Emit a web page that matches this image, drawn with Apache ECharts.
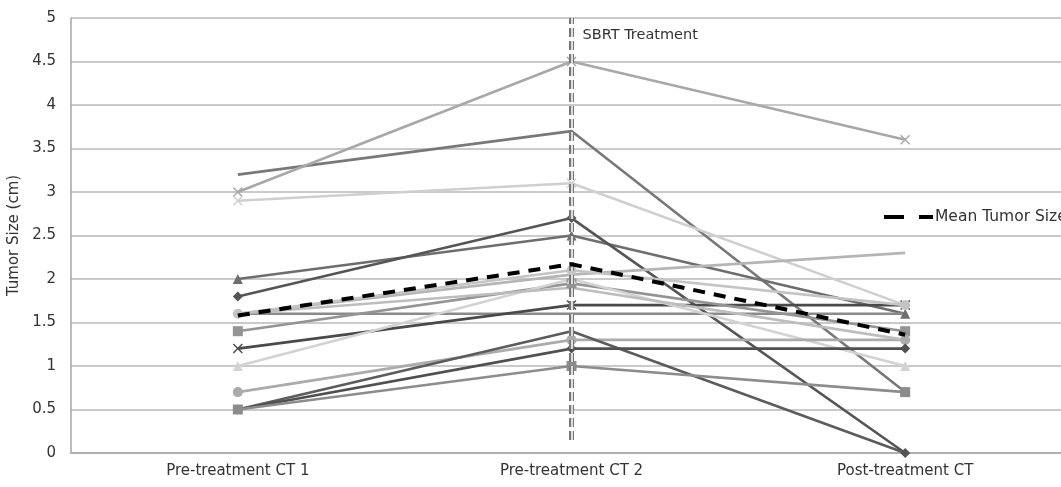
<!DOCTYPE html>
<html>
<head>
<meta charset="utf-8">
<script src="https://cdn.jsdelivr.net/npm/echarts@6/dist/echarts.min.js"></script>
<style>html,body{margin:0;padding:0;background:#fff;overflow:hidden;width:1061px;height:487px}#c{width:1072px;height:487px}</style>
</head>
<body>
<div id="c"></div>
<script>
// ---- data ----
const categories = ['Pre-treatment CT 1', 'Pre-treatment CT 2', 'Post-treatment CT'];
const yTicks = [0, 0.5, 1, 1.5, 2, 2.5, 3, 3.5, 4, 4.5, 5];
const patientA = [3.2, 3.7, 0.7];
const patientB = [3.0, 4.5, 3.6];
const patientC = [2.9, 3.1, 1.7];
const patientD = [2.0, 2.5, 1.6];
const patientE = [1.8, 2.7, 0.0];
const patientF = [1.6, 2.05, 2.3];
const patientG = [1.6, 1.6, 1.6];
const patientH = [1.2, 1.7, 1.7];
const patientI = [1.4, 1.95, 1.4];
const patientJ = [1.0, 2.0, 1.0];
const patientK = [0.7, 1.3, 1.3];
const patientL = [0.5, 1.4, 0.0];
const patientM = [0.5, 1.2, 1.2];
const patientN = [0.5, 1.0, 0.7];
const patientO = [1.6, 2.1, 1.7];
const patientP = [1.6, 1.9, 1.3];
const meanTumorSize = [1.58, 2.17, 1.36];
const treatmentLabel = 'SBRT Treatment';
const treatmentCategory = categories[1];
const treatmentSpan = [0.15, 5];
const treatmentLabelY = 4.8;

// ---- styles ----
const FONT = 'DejaVu Sans, Liberation Sans, Arial, sans-serif';
const X = 'path://M0,1L1,0L5,4L9,0L10,1L6,5L10,9L9,10L5,6L1,10L0,9L4,5Z';
const patients = [
  {d: patientA, c: '#787878', s: 'none'},
  {d: patientB, c: '#a8a8a8', s: X},
  {d: patientC, c: '#cfcfcf', s: X},
  {d: patientD, c: '#6e6e6e', s: 'triangle'},
  {d: patientE, c: '#555555', s: 'diamond'},
  {d: patientF, c: '#b5b5b5', s: 'none'},
  {d: patientG, c: '#8a8a8a', s: 'none'},
  {d: patientH, c: '#4a4a4a', s: X},
  {d: patientI, c: '#949494', s: 'rect'},
  {d: patientJ, c: '#d3d3d3', s: 'triangle'},
  {d: patientK, c: '#ababab', s: 'circle'},
  {d: patientL, c: '#5c5c5c', s: 'none'},
  {d: patientM, c: '#505050', s: 'diamond'},
  {d: patientN, c: '#8c8c8c', s: 'rect'},
  {d: patientO, c: '#c4c4c4', s: 'circle'},
  {d: patientP, c: '#bdbdbd', s: 'none'}
];

const series = patients.map((p, i) => ({
  name: 'P' + (i + 1),
  type: 'line',
  data: p.d,
  symbol: p.s,
  symbolSize: 10,
  lineStyle: {color: p.c, width: 2.6},
  itemStyle: {color: p.c},
  emphasis: {disabled: true},
  z: 2
}));

series.push({
  name: 'Mean Tumor Size',
  type: 'line',
  data: meanTumorSize,
  symbol: 'none',
  lineStyle: {color: '#000', width: 4, type: [12, 9]},
  itemStyle: {color: '#000'},
  z: 5,
  markLine: {
    silent: true,
    symbol: 'none',
    animation: false,
    data: [
      [{coord: [treatmentCategory, treatmentSpan[0]], lineStyle: {color: '#777', width: 5, type: [9, 4]}},
       {coord: [treatmentCategory, treatmentSpan[1]]}],
      [{coord: [treatmentCategory, treatmentSpan[0]], lineStyle: {color: '#fff', width: 1.5, type: [9, 4]}},
       {coord: [treatmentCategory, treatmentSpan[1]]}]
    ],
    label: {show: false}
  },
  markPoint: {
    silent: true,
    symbol: 'circle',
    symbolSize: 0,
    data: [{coord: [treatmentCategory, treatmentLabelY], value: treatmentLabel}],
    label: {show: true, position: 'right', distance: 11, formatter: treatmentLabel,
      color: '#333', fontSize: 14.5, fontFamily: FONT}
  }
});

const chart = echarts.init(document.getElementById('c'), null, {renderer: 'canvas'});
chart.setOption({
  animation: false,
  backgroundColor: '#fff',
  textStyle: {fontFamily: FONT},
  grid: {left: 71, right: 0, top: 18, bottom: 34, outerBoundsMode: 'none', containLabel: false},
  legend: {
    data: [{name: 'Mean Tumor Size', icon: 'path://M0,0H20V4H0Z M35,0H49V4H35Z'}],
    left: 884, top: 209,
    padding: 0,
    itemWidth: 49, itemHeight: 4,
    itemGap: 4,
    textStyle: {color: '#333', fontSize: 15.5, fontFamily: FONT, padding: [0, 0, 0, -3]}
  },
  xAxis: {
    type: 'category',
    data: categories,
    boundaryGap: true,
    axisLine: {lineStyle: {color: '#a6a6a6', width: 1.5}},
    axisTick: {show: false},
    axisLabel: {color: '#333', fontSize: 15, margin: 11},
    splitLine: {show: false}
  },
  yAxis: {
    type: 'value',
    min: yTicks[0], max: yTicks[yTicks.length - 1], interval: 0.5,
    name: 'Tumor Size (cm)',
    nameLocation: 'middle',
    nameGap: 47,
    nameRotate: 90,
    nameTextStyle: {color: '#333', fontSize: 15},
    axisLine: {show: true, lineStyle: {color: '#a6a6a6', width: 1.5}},
    axisTick: {show: false},
    axisLabel: {color: '#333', fontSize: 15, margin: 15},
    splitLine: {lineStyle: {color: '#b8b8b8', width: 1.5}}
  },
  series: series
});
</script>
</body>
</html>
